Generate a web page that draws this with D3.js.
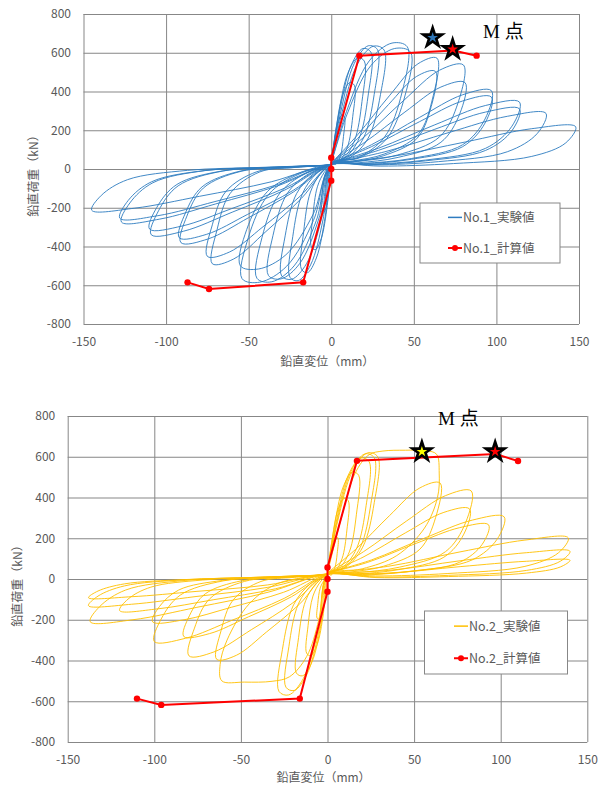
<!DOCTYPE html>
<html>
<head>
<meta charset="utf-8">
<script src="https://cdn.jsdelivr.net/npm/d3@7"></script>
<style>
html, body { margin: 0; padding: 0; background: #fff; }
svg text { font-family: "Noto Sans CJK JP", "Noto Sans", sans-serif; fill: #595959; }
</style>
</head>
<body>
<svg id="chart" width="598" height="787"></svg>
<script>
// ---- axis values and labels ----
const xTicks = [-150, -100, -50, 0, 50, 100, 150];
const yTicks = [-800, -600, -400, -200, 0, 200, 400, 600, 800];
const xLabel = "鉛直変位（mm）";
const yLabel = "鉛直荷重（kN）";
const markLabel = "M 点";

// ---- specimen No.1 ----
const no1Names = ["No.1_実験値", "No.1_計算値"];
// measured hysteresis, one loop per load cycle: [displacement mm, load kN]
const no1Cycles = [
  [[0,30],[1.6,126],[4,238],[6.4,277],[8,269],[7.4,168],[5.6,70],[2.8,25],[0,25],[-1.2,-104],[-3,-196],[-4.8,-228],[-6,-221],[-5.6,-138],[-4.2,-51],[-2.1,-9],[0,20]],
  [[0,30],[2.8,203],[7,383],[11.2,446],[14,432],[13,270],[9.8,113],[4.9,41],[0,25],[-2.4,-189],[-6,-357],[-9.6,-416],[-12,-403],[-11.2,-252],[-8.4,-92],[-4.2,-17],[0,20]],
  [[0,30],[4,261],[10,493],[16,574],[20,557],[18.6,348],[14,145],[7,52],[0,25],[-3.6,-243],[-9,-459],[-14.4,-535],[-18,-518],[-16.7,-324],[-12.6,-119],[-6.3,-22],[0,20]],
  [[0,30],[4.8,283],[12,534],[19.2,622],[24,603],[22.3,377],[16.8,157],[8.4,57],[0,25],[-5,-262],[-12.5,-495],[-20,-576],[-25,-559],[-23.3,-349],[-17.5,-128],[-8.8,-23],[0,20]],
  [[0,30],[5.6,289],[14,546],[22.4,636],[28,616],[26,385],[19.6,161],[9.8,58],[0,25],[-6,-259],[-15,-489],[-24,-569],[-30,-552],[-27.9,-345],[-21,-127],[-10.5,-23],[0,20]],
  [[0,30],[6.4,288],[16,544],[25.6,634],[32,614],[29.8,384],[22.4,160],[11.2,58],[0,25],[-7.6,-258],[-19,-487],[-30.4,-567],[-38,-550],[-35.3,-344],[-26.6,-126],[-13.3,-23],[0,20]],
  [[0,30],[9.2,296],[23,558],[36.8,650],[46,631],[42.8,394],[32.2,164],[16.1,59],[0,25],[-9,-265],[-22.5,-500],[-36,-582],[-45,-564],[-41.9,-353],[-31.5,-129],[-15.8,-24],[0,20]],
  [[0,30],[9.6,283],[24,534],[38.4,622],[48,603],[44.6,377],[33.6,157],[16.8,57],[0,25],[-10.8,-266],[-27,-502],[-43.2,-584],[-54,-566],[-50.2,-354],[-37.8,-130],[-18.9,-24],[0,20]],
  [[0,30],[16,177],[35.2,378],[52.5,543],[64,572],[61.4,366],[52.5,177],[32,77],[12.8,41],[0,25],[-11,-234],[-27.5,-443],[-44,-516],[-55,-500],[-51.2,-313],[-38.5,-115],[-19.3,-21],[0,20]],
  [[0,30],[15.8,156],[34.7,333],[51.7,478],[63,504],[60.5,322],[51.7,156],[31.5,68],[12.6,36],[0,25],[-18,-151],[-39.6,-323],[-59,-464],[-72,-489],[-69.1,-312],[-61.2,-126],[-43.2,-15],[-21.6,8],[0,20]],
  [[0,30],[20,166],[44,355],[65.6,510],[80,537],[76.8,343],[65.6,166],[40,72],[16,39],[0,25],[-18.8,-140],[-41.3,-298],[-61.5,-428],[-75,-451],[-72,-288],[-63.8,-116],[-45,-14],[-22.5,8],[0,20]],
  [[0,30],[20.3,138],[44.6,294],[66.4,423],[81,446],[77.8,285],[66.4,138],[40.5,60],[16.2,32],[0,25],[-22.8,-118],[-50,-251],[-74.6,-361],[-91,-380],[-87.4,-243],[-77.4,-98],[-54.6,-12],[-27.3,8],[0,20]],
  [[0,30],[24.3,125],[53.4,266],[79.5,383],[97,404],[93.1,258],[79.5,125],[48.5,54],[19.4,29],[0,25],[-23,-110],[-50.6,-234],[-75.4,-337],[-92,-355],[-88.3,-227],[-78.2,-92],[-55.2,-11],[-27.6,8],[0,20]],
  [[0,30],[24.3,115],[53.4,244],[79.5,351],[97,371],[93.1,237],[79.5,115],[48.5,50],[19.4,27],[0,25],[-27.3,-105],[-60,-223],[-89.4,-321],[-109,-339],[-104.6,-216],[-92.7,-87],[-65.4,-10],[-32.7,8],[0,20]],
  [[0,30],[28.5,107],[62.7,228],[93.5,328],[114,345],[109.4,221],[93.5,107],[57,46],[22.8,25],[0,25],[-27.5,-96],[-60.5,-205],[-90.2,-294],[-110,-310],[-105.6,-198],[-93.5,-80],[-66,-10],[-33,8],[0,20]],
  [[0,30],[28.5,96],[62.7,205],[93.5,294],[114,310],[109.4,198],[93.5,96],[57,42],[22.8,22],[0,25],[-31.8,-85],[-69.9,-180],[-104.1,-259],[-127,-274],[-121.9,-175],[-108,-71],[-76.2,-8],[-38.1,8],[0,20]],
  [[0,30],[32.5,89],[71.5,189],[106.6,272],[130,287],[124.8,184],[106.6,89],[65,38],[26,21],[0,25],[-32,-79],[-70.4,-168],[-105,-241],[-128,-254],[-122.9,-162],[-108.8,-66],[-76.8,-8],[-38.4,8],[0,20]],
  [[0,30],[37,65],[81.4,140],[121.4,208],[148,218],[142,135],[121.4,65],[74,28],[29.6,15],[0,25],[-36.3,-66],[-79.8,-141],[-118.9,-202],[-145,-213],[-139.2,-136],[-123.3,-55],[-87,-7],[-43.5,8],[0,20]]
];
// calculated skeleton curve
const no1CalcX = [-87, -74, -17, 0, 0, 0, 17, 74, 88];
const no1CalcY = [-585, -619, -585, -60, 0, 58, 585, 612, 585];
// M points (measured / calculated)
const no1StarX = [61.4, 73.5];
const no1StarY = [678, 618];
const no1StarFill = ["#2E75B6", "#FF0000"];

// ---- specimen No.2 ----
const no2Names = ["No.2_実験値", "No.2_計算値"];
const no2Cycles = [
  [[0,30],[1.2,95],[3,179],[4.8,208],[6,202],[5.6,126],[4.2,53],[2.1,19],[0,25],[-1.2,-90],[-3,-170],[-4.8,-198],[-6,-192],[-5.6,-120],[-4.2,-44],[-2.1,-8],[0,20]],
  [[0,30],[2.4,180],[6,340],[9.6,396],[12,384],[11.2,240],[8.4,100],[4.2,36],[0,25],[-2.4,-171],[-6,-323],[-9.6,-376],[-12,-365],[-11.2,-228],[-8.4,-84],[-4.2,-15],[0,20]],
  [[0,30],[3.6,239],[9,451],[14.4,525],[18,509],[16.7,318],[12.6,133],[6.3,48],[0,25],[-3.6,-216],[-9,-408],[-14.4,-475],[-18,-461],[-16.7,-288],[-12.6,-106],[-6.3,-19],[0,20]],
  [[0,30],[4.8,270],[12,510],[19.2,594],[24,576],[22.3,360],[16.8,150],[8.4,54],[0,25],[-4.8,-249],[-12,-470],[-19.2,-547],[-24,-531],[-22.3,-332],[-16.8,-122],[-8.4,-22],[0,20]],
  [[0,30],[5.4,279],[13.5,527],[21.6,614],[27,595],[25.1,372],[18.9,155],[9.5,56],[0,25],[-5.6,-259],[-14,-489],[-22.4,-569],[-28,-552],[-26,-345],[-19.6,-127],[-9.8,-23],[0,20]],
  [[0,30],[5.8,281],[14.5,531],[23.2,619],[29,600],[27,375],[20.3,156],[10.2,56],[0,25],[-5,-200],[-12,-380],[-22,-480],[-32,-502],[-48,-506],[-61,-500],[-62,-420],[-58,-300],[-45,-120],[-28,-20],[0,20]],
  [[0,30],[8,300],[16,520],[24,610],[32,628],[45,632],[57,630],[63,612],[64.5,520],[63.5,400],[56,250],[40,115],[20,50],[0,25],[-16,-122],[-35.2,-260],[-52.5,-374],[-64,-394],[-61.4,-252],[-54.4,-102],[-38.4,-12],[-19.2,8],[0,20]],
  [[0,30],[16.3,146],[35.8,311],[53.3,447],[65,471],[62.4,301],[53.3,146],[32.5,63],[13,34],[0,25],[-20,-117],[-44,-249],[-65.6,-358],[-80,-377],[-76.8,-241],[-68,-97],[-48,-12],[-24,8],[0,20]],
  [[0,30],[20.8,134],[45.7,285],[68.1,409],[83,432],[79.7,276],[68.1,134],[41.5,58],[16.6,31],[0,25],[-20.8,-87],[-45.7,-186],[-68.1,-268],[-83,-282],[-79.7,-180],[-70.6,-73],[-49.8,-9],[-24.9,8],[0,20]],
  [[0,30],[20.5,107],[45.1,227],[67.2,327],[82,344],[78.7,220],[67.2,107],[41,46],[16.4,25],[0,25],[-25,-95],[-55,-202],[-82,-291],[-100,-307],[-96,-196],[-85,-79],[-60,-9],[-30,8],[0,20]],
  [[0,30],[25.5,94],[56.1,201],[83.6,289],[102,305],[97.9,195],[83.6,94],[51,41],[20.4,22],[0,25],[-25.3,-65],[-55.6,-139],[-82.8,-200],[-101,-210],[-97,-135],[-85.9,-54],[-60.6,-7],[-30.3,8],[0,20]],
  [[0,30],[23.3,82],[51.2,175],[76.3,252],[93,266],[89.3,170],[76.3,82],[46.5,36],[18.6,19],[0,25],[-34.3,-65],[-75.4,-139],[-112.3,-200],[-137,-210],[-131.5,-135],[-116.5,-54],[-82.2,-7],[-41.1,8],[0,20]],
  [[0,30],[34.8,62],[76.5,133],[114,191],[139,202],[133.4,129],[114,62],[69.5,27],[27.8,15],[0,25],[-34.5,-41],[-75.9,-86],[-113.2,-124],[-138,-131],[-132.5,-84],[-117.3,-34],[-82.8,-4],[-41.4,8],[0,20]],
  [[0,30],[35,42],[77,90],[114.8,129],[140,136],[134.4,87],[114.8,42],[70,18],[28,10],[0,25],[-34.5,-29],[-75.9,-61],[-113.2,-87],[-138,-92],[-132.5,-59],[-117.3,-24],[-82.8,-3],[-41.4,8],[0,20]],
  [[0,30],[35,29],[77,61],[114.8,87],[140,92],[134.4,59],[114.8,29],[70,12],[28,7],[0,25],[-30,-48],[-66,-102],[-98.4,-147],[-120,-155],[-115.2,-99],[-102,-40],[-72,-5],[-36,8],[0,20]]
];
const no2CalcX = [-110, -96, -16, 0, 0, 0, 17, 97, 110];
const no2CalcY = [-587, -618, -587, -62, 0, 57, 580, 613, 579];
const no2StarX = [54.5, 96.8];
const no2StarY = [625, 625];
const no2StarFill = ["#FFFF00", "#FF0000"];

// ---- panel layout ----
const panels = [
  { cycles: no1Cycles, calcX: no1CalcX, calcY: no1CalcY, starX: no1StarX, starY: no1StarY, starFill: no1StarFill,
    names: no1Names, color: "#2E7CC0",
    left: 83.5, right: 579, top: 14, bottom: 324,
    yTitleX: 34, xTitleY: 366, legend: { x: 420, y: 203, w: 140, h: 60, lineX: 448 },
    mark: { x: 483, y: 38 } },
  { cycles: no2Cycles, calcX: no2CalcX, calcY: no2CalcY, starX: no2StarX, starY: no2StarY, starFill: no2StarFill,
    names: no2Names, color: "#FFC000",
    left: 67.7, right: 587.3, top: 416, bottom: 742,
    yTitleX: 18, xTitleY: 782, legend: { x: 424.5, y: 611, w: 143, h: 63, lineX: 454 },
    mark: { x: 438, y: 425 } }
];

const svg = d3.select("#chart");
const gridColor = "#878787";

panels.forEach(p => {
  const g = svg.append("g");
  const x = d3.scaleLinear().domain([-150, 150]).range([p.left, p.right]);
  const y = d3.scaleLinear().domain([-800, 800]).range([p.bottom, p.top]);
  const w = p.right - p.left, h = p.bottom - p.top;

  // gridlines
  g.append("g").attr("transform", `translate(0,${p.bottom})`)
    .call(d3.axisBottom(x).tickValues(xTicks).tickSize(-h).tickFormat(""))
    .call(a => a.select(".domain").remove())
    .selectAll("line").attr("stroke", gridColor).attr("stroke-width", 1);
  g.append("g").attr("transform", `translate(${p.left},0)`)
    .call(d3.axisLeft(y).tickValues(yTicks).tickSize(-w).tickFormat(""))
    .call(a => a.select(".domain").remove())
    .selectAll("line").attr("stroke", gridColor).attr("stroke-width", 1);

  // tick labels
  const xa = g.append("g").attr("transform", `translate(0,${p.bottom})`)
    .call(d3.axisBottom(x).tickValues(xTicks).tickSize(0).tickPadding(13.5).tickFormat(d => String(d)));
  xa.select(".domain").remove();
  xa.selectAll("text").attr("font-size", 12).attr("fill", "#595959")
    .attr("font-family", "'Noto Sans CJK JP', sans-serif");
  const ya = g.append("g").attr("transform", `translate(${p.left},0)`)
    .call(d3.axisLeft(y).tickValues(yTicks).tickSize(0).tickPadding(12.5).tickFormat(d => String(d)));
  ya.select(".domain").remove();
  ya.selectAll("text").attr("font-size", 12).attr("fill", "#595959")
    .attr("font-family", "'Noto Sans CJK JP', sans-serif");

  // measured loops
  const loop = d3.line().x(d => x(d[0])).y(d => y(d[1])).curve(d3.curveCatmullRom.alpha(0.5));
  g.append("g").selectAll("path").data(p.cycles).join("path")
    .attr("d", loop).attr("fill", "none").attr("stroke", p.color)
    .attr("stroke-width", 1).attr("stroke-opacity", 0.9);

  // calculated skeleton
  const calc = p.calcX.map((v, i) => [v, p.calcY[i]]);
  g.append("path").attr("d", d3.line().x(d => x(d[0])).y(d => y(d[1]))(calc))
    .attr("fill", "none").attr("stroke", "#FF0000").attr("stroke-width", 2);
  g.append("g").selectAll("circle").data(calc).join("circle")
    .attr("cx", d => x(d[0])).attr("cy", d => y(d[1])).attr("r", 3.2).attr("fill", "#FF0000");

  // M points
  const outer = d3.symbol(d3.symbolStar).size(225)();
  const inner = d3.symbol(d3.symbolStar).size(36)();
  p.starX.forEach((sx, i) => {
    const t = `translate(${x(sx)},${y(p.starY[i])})`;
    g.append("path").attr("d", outer).attr("transform", t).attr("fill", "#000");
    g.append("path").attr("d", inner).attr("transform", t).attr("fill", p.starFill[i]);
  });
  g.append("text").attr("x", p.mark.x).attr("y", p.mark.y)
    .attr("font-size", 19).attr("fill", "#000").style("fill", "#000")
    .style("font-family", "'Liberation Serif', 'Noto Sans CJK JP', serif")
    .text(markLabel);

  // axis titles
  g.append("text").attr("x", (p.left + p.right) / 2 - 4).attr("y", p.xTitleY)
    .attr("text-anchor", "middle").attr("font-size", 12).text(xLabel);
  g.append("text").attr("transform", `translate(${p.yTitleX},${(p.top + p.bottom) / 2 + 4}) rotate(-90)`)
    .attr("text-anchor", "middle").attr("font-size", 12).attr("dy", "0.35em").text(yLabel);

  // legend
  const L = p.legend;
  const lg = g.append("g");
  lg.append("rect").attr("x", L.x).attr("y", L.y).attr("width", L.w).attr("height", L.h)
    .attr("fill", "#fff").attr("stroke", gridColor).attr("stroke-width", 1);
  const rowY = [L.y + L.h * 0.24, L.y + L.h * 0.75];
  lg.append("line").attr("x1", L.lineX).attr("x2", L.lineX + 14).attr("y1", rowY[0]).attr("y2", rowY[0])
    .attr("stroke", p.color).attr("stroke-width", 1.5);
  lg.append("line").attr("x1", L.lineX).attr("x2", L.lineX + 14).attr("y1", rowY[1]).attr("y2", rowY[1])
    .attr("stroke", "#FF0000").attr("stroke-width", 2);
  lg.append("circle").attr("cx", L.lineX + 7).attr("cy", rowY[1]).attr("r", 3).attr("fill", "#FF0000");
  p.names.forEach((n, i) => {
    lg.append("text").attr("x", L.lineX + 15).attr("y", rowY[i]).attr("dy", "0.36em")
      .attr("font-size", 12.5).text(n);
  });
});
</script>
</body>
</html>
